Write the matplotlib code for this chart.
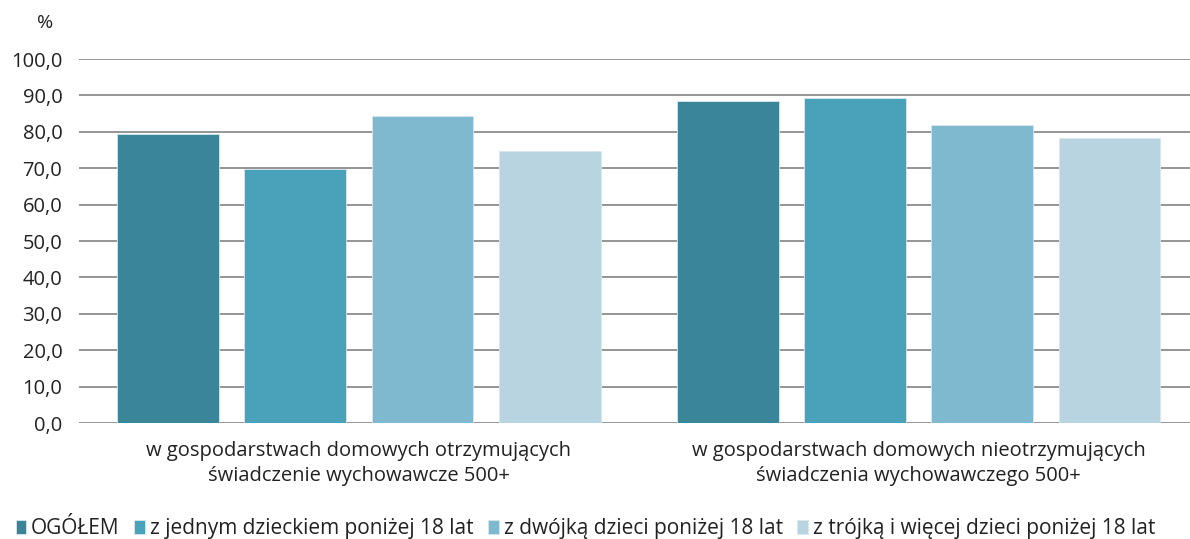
import matplotlib.pyplot as plt
import numpy as np

plt.rcParams['font.family'] = ['Open Sans', 'DejaVu Sans']

categories = ['w gospodarstwach domowych otrzymujących\nświadczenie wychowawcze 500+',
              'w gospodarstwach domowych nieotrzymujących\nświadczenia wychowawczego 500+']
series_names = ['OGÓŁEM', 'z jednym dzieckiem poniżej 18 lat',
                'z dwójką dzieci poniżej 18 lat', 'z trójką i więcej dzieci poniżej 18 lat']
ogolem = [79.5, 88.6]
jedno = [69.8, 89.2]
dwoje = [84.3, 82.0]
troje = [74.6, 78.3]
colors = ['#3A8597', '#49A2B9', '#7EB9CF', '#B7D4E0']
yticks = [0, 10, 20, 30, 40, 50, 60, 70, 80, 90, 100]

fig = plt.figure(figsize=(11.9, 5.39), dpi=100)
ax = fig.add_axes([0.0664, 0.2152, 0.941, 0.6753])

x = np.arange(len(categories))
width = 0.182
step = 0.227
values = [ogolem, jedno, dwoje, troje]
for i, (vals, name, c) in enumerate(zip(values, series_names, colors)):
    ax.bar(x + (i - 1.5) * step, vals, width, color=c, label=name,
           edgecolor='#d8e8ee', linewidth=0.6, zorder=3)

ax.set_xlim(-0.5, 1.5)
ax.set_ylim(0, 100)
ax.set_yticks(yticks)
ax.set_yticklabels([f'{v:.1f}'.replace('.', ',') for v in yticks], fontsize=14.5, color='#222222')
ax.yaxis.grid(True, color='#8c8c8c', linewidth=1.3, zorder=0)
ax.tick_params(axis='y', length=0, pad=12)
ax.set_xticks(x)
ax.set_xticklabels(categories, fontsize=14.5, color='#222222', linespacing=1.3)
ax.tick_params(axis='x', length=0, pad=13)
for s in ax.spines.values():
    s.set_visible(False)

fig.text(0.038, 0.957, '%', fontsize=14, color='#222222', ha='center', va='center')

fig.legend(loc='lower center', bbox_to_anchor=(0.492, -0.035), ncol=4, frameon=False,
           fontsize=15, handlelength=0.5, handleheight=0.7, handletextpad=0.25,
           columnspacing=0.7, labelcolor='#222222')

fig.savefig('out.png', dpi=100)
